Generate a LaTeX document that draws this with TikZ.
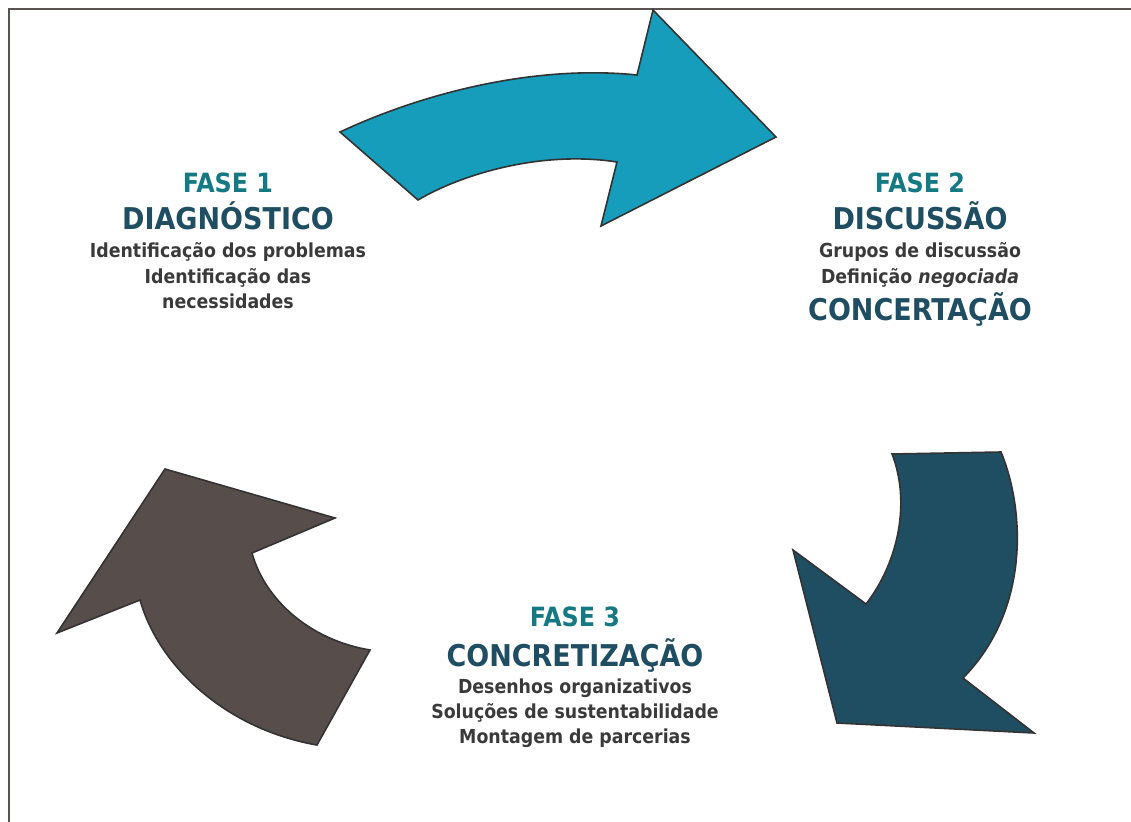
\documentclass[tikz,border=0pt]{standalone}
\usepackage{fontspec}
\IfFontExistsTF{DejaVu Sans Condensed}{\setmainfont{DejaVu Sans Condensed}}{\setmainfont{DejaVu Sans}}
\definecolor{frameC}{HTML}{5B5352}
\definecolor{edgeC}{HTML}{333333}
\definecolor{arrowA}{HTML}{169DBB}
\definecolor{arrowB}{HTML}{1F4D62}
\definecolor{arrowC}{HTML}{574E4C}
\definecolor{faseC}{HTML}{147983}
\definecolor{titC}{HTML}{1F4E63}
\definecolor{bodyC}{HTML}{3A3A3A}
\tikzset{
  bigarrow/.style={draw=edgeC, line width=1.6pt, line join=miter},
  fase/.style={font=\bfseries\fontsize{26.5}{26.5}\selectfont, text=faseC, anchor=base, inner sep=0pt},
  titulo/.style={font=\bfseries\fontsize{30}{30}\selectfont, text=titC, anchor=base, inner sep=0pt},
  corpo/.style={font=\bfseries\fontsize{19.3}{19.3}\selectfont, text=bodyC, anchor=base, inner sep=0pt},
}
\begin{document}
\begin{tikzpicture}[x=1pt, y=-1pt]
\useasboundingbox (0,0) rectangle (1131,821);
\fill[white] (0,0) rectangle (1131,821);
% frame
\draw[frameC, line width=2pt] (9,822) -- (9,9) -- (1132,9);

% top arrow (phase 1 -> 2)
\draw[bigarrow, fill=arrowA] (340,132) .. controls (430,90) and (540,65) .. (637,75)
  -- (653,10) -- (776,137) -- (601,226) -- (617,162)
  .. controls (540,150) and (460,175) .. (418,200) -- cycle;

% right arrow (phase 2 -> 3)
\draw[bigarrow, fill=arrowB] (892,454) -- (1001,452)
  .. controls (1025,510) and (1030,610) .. (963,678)
  -- (1034,733) -- (837,723) -- (793,550) -- (866,604)
  .. controls (900,560) and (910,500) .. (892,454) -- cycle;

% left arrow (phase 3 -> 1)
\draw[bigarrow, fill=arrowC] (165,469) -- (335,518) -- (252,553)
  .. controls (265,600) and (310,640) .. (370,650)
  -- (317,745)
  .. controls (230,730) and (160,670) .. (140,600)
  -- (57,633) -- cycle;

% Phase 1
\node[fase]   (f1)  at (228,193) {FASE 1};
\node[titulo] (t1)  at (228,229) {DIAGNÓSTICO};
\node[corpo]  (b1a) at (228,257) {Identificação dos problemas};
\node[corpo]  (b1b) at (228,283) {Identificação das};
\node[corpo]  (b1c) at (228,308) {necessidades};

% Phase 2
\node[fase]   (f2)  at (920,193) {FASE 2};
\node[titulo] (t2)  at (920,229) {DISCUSSÃO};
\node[corpo]  (b2a) at (920,257) {Grupos de discussão};
\node[corpo]  (b2b) at (920,283) {Definição \textit{negociada}};
\node[titulo] (t2b) at (920,320) {CONCERTAÇÃO};

% Phase 3
\node[fase]   (f3)  at (575,626) {FASE 3};
\node[titulo] (t3)  at (575,666) {CONCRETIZAÇÃO};
\node[corpo]  (b3a) at (575,693) {Desenhos organizativos};
\node[corpo]  (b3b) at (575,718) {Soluções de sustentabilidade};
\node[corpo]  (b3c) at (575,743) {Montagem de parcerias};
\end{tikzpicture}
\end{document}
